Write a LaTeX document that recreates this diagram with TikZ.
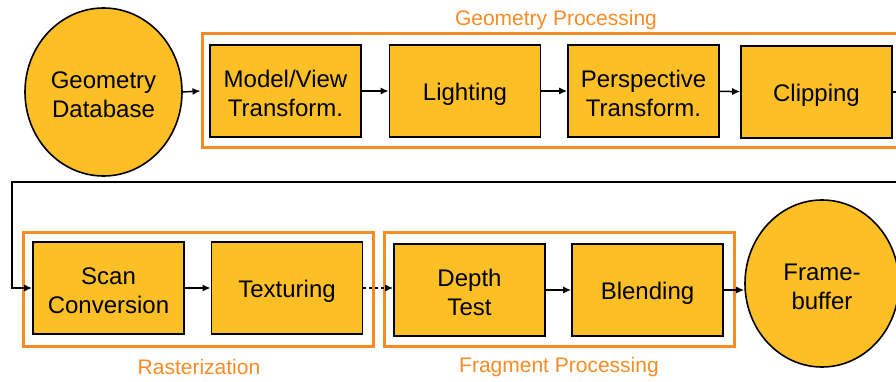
\documentclass[tikz,border=0pt]{standalone}
\usepackage{fontspec}
\setmainfont{Liberation Sans}
\usepackage{tikz}
\usetikzlibrary{
  shapes.geometric,
  arrows.meta
}
\definecolor{stagefill}{RGB}{252,192,38}
\definecolor{grouporange}{RGB}{247,139,36}
\tikzset{
	stage/.style={draw=black, line width=1.6pt, fill=stagefill, minimum width=151pt, minimum height=92pt, inner sep=0pt, align=center, font=\fontsize{24}{29}\selectfont},
	store/.style={draw=black, line width=1.6pt, fill=stagefill, ellipse, inner sep=0pt, align=center, font=\fontsize{24}{29}\selectfont},
	oneline/.style={text height=21pt, text depth=2pt},
	twoline/.style={text height=51.5pt, text depth=0pt},
	group/.style={draw=grouporange, line width=3pt, inner sep=0pt},
	grouplabel/.style={text=grouporange, font=\fontsize{21}{25}\selectfont},
	flow/.style={line width=1.5pt, -{Latex[length=8pt,width=7pt]}}
}

\begin{document}
\begin{tikzpicture}[x=1pt,y=-1pt]

	\clip (0,0) rectangle (896,382);

	% pipeline groups
	\node[group, minimum width=708pt, minimum height=114pt] (geo) at (556,91) {};
	\node[group, minimum width=350pt, minimum height=114pt] (rast) at (198,289) {};
	\node[group, minimum width=350pt, minimum height=114pt] (frag) at (559,289) {};

	\node[grouplabel] (geolabel) at (556,20) {Geometry Processing};
	\node[grouplabel] (rastlabel) at (199,367) {Rasterization};
	\node[grouplabel] (fraglabel) at (559,367) {Fragment Processing};

	% stages
	\node[store, twoline, minimum width=157pt, minimum height=168pt] (gdb) at (103.5,92) {Geometry\\Database};
	\node[stage, twoline] (model) at (285.5,91) {Model/View\\Transform.};
	\node[stage, oneline] (light) at (465,91) {Lighting};
	\node[stage, twoline] (persp) at (643.5,91) {Perspective\\Transform.};
	\node[stage, oneline] (clip) at (816.5,92) {Clipping};

	\node[stage, twoline] (scan) at (108.5,288) {Scan\\Conversion};
	\node[stage, oneline] (tex) at (287,288) {Texturing};
	\node[stage, twoline] (depth) at (469.5,290) {Depth\\Test};
	\node[stage, oneline] (blend) at (647.5,290) {Blending};
	\node[store, twoline, minimum width=154pt, minimum height=167pt] (fb) at (822,283.5) {Frame-\\buffer};

	% connectors
	\coordinate (turnR) at (912,182);
	\coordinate (turnL) at (12,182);

	\draw[flow] (gdb.east) -- (geo.west);
	\draw[flow] (model) -- (light);
	\draw[flow] (light) -- (persp);
	\draw[flow] (persp) -- (clip);
	\draw[flow] (clip.east) -| (turnR) -- (turnL) |- (scan.west);
	\draw[flow] (scan) -- (tex);
	\draw[flow, dashed] (tex.east) -- (depth.west |- tex.east);
	\draw[flow] (depth) -- (blend);
	\draw[flow] (blend.east) -- (blend.east -| fb.west);

\end{tikzpicture}
\end{document}
